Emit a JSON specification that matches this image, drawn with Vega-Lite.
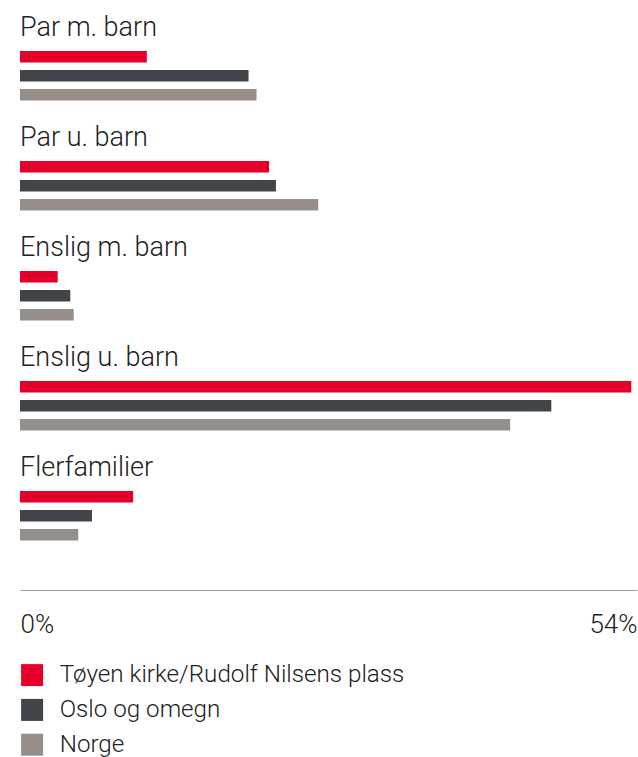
{
  "$schema": "https://vega.github.io/schema/vega-lite/v6.json",
  "width": 617,
  "height": 550,
  "autosize": {"type": "none"},
  "padding": {"left": 20, "top": 11, "right": 1, "bottom": 196},
  "background": "white",
  "config": {"view": {"stroke": null}, "font": "Roboto"},
  "datasets": {
    "bars": [
      {"kategori": "Par m. barn", "serie": "Tøyen kirke/Rudolf Nilsens plass", "andel": 11.1},
      {"kategori": "Par m. barn", "serie": "Oslo og omegn", "andel": 20.0},
      {"kategori": "Par m. barn", "serie": "Norge", "andel": 20.7},
      {"kategori": "Par u. barn", "serie": "Tøyen kirke/Rudolf Nilsens plass", "andel": 21.8},
      {"kategori": "Par u. barn", "serie": "Oslo og omegn", "andel": 22.4},
      {"kategori": "Par u. barn", "serie": "Norge", "andel": 26.1},
      {"kategori": "Enslig m. barn", "serie": "Tøyen kirke/Rudolf Nilsens plass", "andel": 3.3},
      {"kategori": "Enslig m. barn", "serie": "Oslo og omegn", "andel": 4.4},
      {"kategori": "Enslig m. barn", "serie": "Norge", "andel": 4.7},
      {"kategori": "Enslig u. barn", "serie": "Tøyen kirke/Rudolf Nilsens plass", "andel": 53.5},
      {"kategori": "Enslig u. barn", "serie": "Oslo og omegn", "andel": 46.5},
      {"kategori": "Enslig u. barn", "serie": "Norge", "andel": 42.9},
      {"kategori": "Flerfamilier", "serie": "Tøyen kirke/Rudolf Nilsens plass", "andel": 9.9},
      {"kategori": "Flerfamilier", "serie": "Oslo og omegn", "andel": 6.3},
      {"kategori": "Flerfamilier", "serie": "Norge", "andel": 5.1}
    ],
    "kategorier": [
      {"kategori": "Par m. barn"},
      {"kategori": "Par u. barn"},
      {"kategori": "Enslig m. barn"},
      {"kategori": "Enslig u. barn"},
      {"kategori": "Flerfamilier"}
    ]
  },
  "layer": [
    {
      "data": {"name": "bars"},
      "mark": {"type": "bar"},
      "encoding": {
        "y": {
          "field": "kategori",
          "type": "nominal",
          "sort": ["Par m. barn", "Par u. barn", "Enslig m. barn", "Enslig u. barn", "Flerfamilier"],
          "scale": {"paddingInner": 0, "paddingOuter": 0},
          "axis": null
        },
        "yOffset": {
          "field": "serie",
          "type": "nominal",
          "sort": ["Tøyen kirke/Rudolf Nilsens plass", "Oslo og omegn", "Norge"],
          "scale": {"range": [36.2, 93.2], "paddingInner": 0.4, "paddingOuter": 0.2}
        },
        "x": {
          "field": "andel",
          "type": "quantitative",
          "scale": {"domain": [0, 54], "nice": false},
          "axis": {
            "title": null,
            "values": [0, 54],
            "labelExpr": "datum.value + '%'",
            "labelFlush": true,
            "labelFontSize": 26,
            "labelFont": "Roboto Light, Roboto",
            "labelFontWeight": 300,
            "labelColor": "#222222",
            "labelPadding": 21,
            "ticks": false,
            "grid": false,
            "offset": 29,
            "domainColor": "#a0a0a0",
            "domainWidth": 1
          }
        },
        "color": {
          "field": "serie",
          "type": "nominal",
          "sort": ["Tøyen kirke/Rudolf Nilsens plass", "Oslo og omegn", "Norge"],
          "scale": {
            "domain": ["Tøyen kirke/Rudolf Nilsens plass", "Oslo og omegn", "Norge"],
            "range": ["#e4002b", "#414549", "#968f89"]
          },
          "legend": {
            "orient": "none",
            "legendX": 0,
            "legendY": 652,
            "direction": "vertical",
            "title": null,
            "symbolType": "square",
            "symbolSize": 484,
            "symbolStrokeWidth": 0,
            "symbolOpacity": 1,
            "labelFontSize": 24.2,
            "labelFont": "Roboto Light, Roboto",
            "labelFontWeight": 300,
            "labelColor": "#222222",
            "labelOffset": 15.5,
            "rowPadding": 9.8,
            "padding": 0,
            "labelLimit": 0
          }
        }
      }
    },
    {
      "data": {"name": "kategorier"},
      "mark": {"type": "text", "align": "left", "baseline": "alphabetic", "dy": 25, "fontSize": 27, "fontWeight": 300, "font": "Roboto Light, Roboto", "color": "#222222"},
      "encoding": {
        "y": {
          "field": "kategori",
          "type": "nominal",
          "sort": ["Par m. barn", "Par u. barn", "Enslig m. barn", "Enslig u. barn", "Flerfamilier"],
          "bandPosition": 0
        },
        "x": {"datum": 0},
        "text": {"field": "kategori"}
      }
    }
  ]
}
